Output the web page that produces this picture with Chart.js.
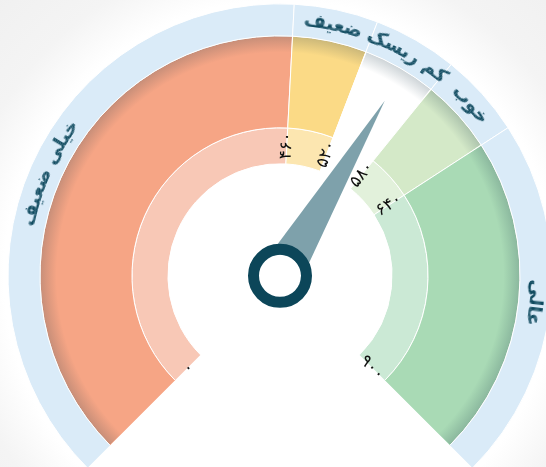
<!DOCTYPE html>
<html><head><meta charset="utf-8">
<script src="https://cdn.jsdelivr.net/npm/chart.js@4.4.1/dist/chart.umd.min.js"></script>
<style>
html,body{margin:0;padding:0;width:546px;height:467px;overflow:hidden;}
body{background: radial-gradient(circle at 280px 276px, #ffffff 0px, #ffffff 276px, #f4f4f4 325px, #efefef 420px);}
#wrap{position:relative;width:546px;height:467px;}
</style></head><body>
<div id="wrap"><canvas id="c" width="546" height="467"></canvas></div>
<script>
// ---- data ----
const categories = ['خیلی ضعیف', 'ضعیف', 'کم ریسک', 'خوب', 'عالی'];
const boundaries = [0, 460, 520, 580, 640, 900];
const segmentSizes = [460, 60, 60, 60, 260];
const tickLabels = ['۰', '۴۶۰', '۵۲۰', '۵۸۰', '۶۴۰', '۹۰۰'];
const score = 553;

// ---- styles ----
const bandColors = ['#daebf8', '#daebf8', '#daebf8', '#daebf8', '#daebf8'];
const mainColors = ['#f6a585', '#fbda86', '#ffffff', '#d4e9c8', '#a9dab5'];
const innerColors = ['#f8c8b6', '#fce6b0', '#ffffff', '#e2f1db', '#cbe9d5'];
const labelColor = '#0f4a5f';

function curvedText(ctx, text, cx, cy, r, midTop, font, color) {
  const off = document.createElement('canvas');
  let octx = off.getContext('2d');
  octx.font = font;
  const w = Math.ceil(octx.measureText(text).width) + 6;
  const h = 36;
  off.width = w; off.height = h;
  octx = off.getContext('2d');
  octx.font = font; octx.fillStyle = color;
  octx.textAlign = 'center'; octx.textBaseline = 'middle';
  octx.direction = 'rtl';
  octx.fillText(text, w / 2, h / 2);
  for (let i = 0; i < w; i++) {
    const a = midTop + (i + 0.5 - w / 2) / r;
    ctx.save();
    ctx.translate(cx, cy);
    ctx.rotate(a);
    ctx.drawImage(off, i, 0, 1, h, -0.5, -r - h / 2, 1.15, h);
    ctx.restore();
  }
}

const gaugePlugin = {
  id: 'gauge',
  afterDatasetDraw(chart, args) {
    if (args.index !== 1) return;
    const ctx = chart.ctx;
    args.meta.data.forEach(arc => {
      const p = arc.getProps(['x', 'y', 'startAngle', 'endAngle', 'innerRadius', 'outerRadius'], true);
      ctx.save();
      ctx.beginPath();
      const e = 0.6 / p.outerRadius;
      ctx.arc(p.x, p.y, p.outerRadius, p.startAngle + e, p.endAngle - e);
      ctx.arc(p.x, p.y, p.innerRadius, p.endAngle - e, p.startAngle + e, true);
      ctx.closePath();
      ctx.clip();
      const g = ctx.createRadialGradient(p.x, p.y, p.innerRadius, p.x, p.y, p.outerRadius);
      g.addColorStop(0, 'rgba(30,60,75,0)');
      g.addColorStop(0.82, 'rgba(30,60,75,0)');
      g.addColorStop(1, 'rgba(30,60,75,0.22)');
      ctx.fillStyle = g;
      ctx.fill();
      ctx.restore();
    });
  },
  afterDraw(chart) {
    const ctx = chart.ctx;
    const band = chart.getDatasetMeta(0).data;
    const inner = chart.getDatasetMeta(2).data;
    const p0 = band[0].getProps(['x', 'y', 'innerRadius', 'outerRadius'], true);
    const cx = p0.x, cy = p0.y;
    const bandMid = (p0.innerRadius + p0.outerRadius) / 2;
    // category labels, curved along the outer band
    band.forEach((arc, i) => {
      const p = arc.getProps(['startAngle', 'endAngle'], true);
      const mid = (p.startAngle + p.endAngle) / 2 + Math.PI / 2;
      curvedText(ctx, categories[i], cx, cy, bandMid, mid, 'bold 19px "DejaVu Sans"', labelColor);
    });
    // tick labels on the inner band
    const ip = inner[0].getProps(['innerRadius', 'outerRadius'], true);
    const tr = (ip.innerRadius + ip.outerRadius) / 2;
    const start = chart.getDatasetMeta(0).controller._getRotation();
    const circ = chart.getDatasetMeta(0).controller._getCircumference();
    const total = boundaries[boundaries.length - 1];
    ctx.save();
    ctx.font = '17px "DejaVu Sans"';
    ctx.fillStyle = '#111';
    ctx.textAlign = 'center';
    ctx.textBaseline = 'middle';
    boundaries.forEach((v, i) => {
      const a = start + v / total * circ;
      ctx.save();
      ctx.translate(cx + tr * Math.cos(a), cy + tr * Math.sin(a));
      ctx.rotate(a);
      ctx.fillText(tickLabels[i], 0, 0);
      ctx.restore();
    });
    ctx.restore();
    // needle
    const na = start + score / total * circ;
    const len = 204, hw = 21;
    const ux = Math.cos(na), uy = Math.sin(na);
    ctx.save();
    ctx.beginPath();
    ctx.moveTo(cx + ux * len, cy + uy * len);
    ctx.lineTo(cx - uy * hw, cy + ux * hw);
    ctx.lineTo(cx + uy * hw, cy - ux * hw);
    ctx.closePath();
    ctx.fillStyle = '#7ea1ab';
    ctx.fill();
    ctx.beginPath();
    ctx.arc(cx, cy, 21, 0, Math.PI * 2);
    ctx.fillStyle = '#ffffff';
    ctx.fill();
    ctx.beginPath();
    ctx.arc(cx, cy, 26.5, 0, Math.PI * 2);
    ctx.lineWidth = 11;
    ctx.strokeStyle = '#0c4659';
    ctx.stroke();
    ctx.restore();
  }
};

new Chart(document.getElementById('c'), {
  type: 'doughnut',
  data: {
    labels: categories,
    datasets: [
      { data: segmentSizes, backgroundColor: bandColors, borderColor: '#ffffff', borderWidth: 1, weight: 32 },
      { data: segmentSizes, backgroundColor: mainColors, borderColor: '#ffffff', borderWidth: 1, weight: 92 },
      { data: segmentSizes, backgroundColor: innerColors, borderColor: '#ffffff', borderWidth: 1, weight: 36 }
    ]
  },
  options: {
    responsive: false,
    animation: false,
    rotation: -135,
    circumference: 270,
    cutout: '41.2%',
    radius: 272,
    layout: { padding: { left: 14, top: 5, right: 0, bottom: 0 } },
    plugins: { legend: { display: false }, tooltip: { enabled: false } },
    events: []
  },
  plugins: [gaugePlugin]
});
</script>
</body></html>
